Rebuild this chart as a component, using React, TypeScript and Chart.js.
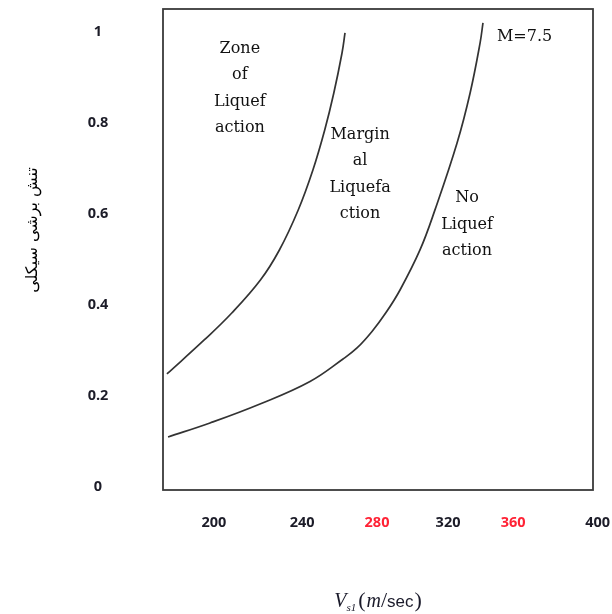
import React, { useEffect, useRef } from "react";
import { Chart, registerables } from "chart.js";

Chart.register(...registerables);

// ---- data ----
const curve1X = [176.0, 195.42, 209.79, 224.69, 234.58, 244.38, 252.03, 258.18, 262.92, 267.19, 268.75];
const curve1Y = [0.2484, 0.3231, 0.3824, 0.4549, 0.5209, 0.6088, 0.6967, 0.7846, 0.8659, 0.9538, 0.9978];

const curve2X = [176.6, 198.44, 224.48, 250.52, 267.71, 275.0, 282.81, 290.1, 297.4, 307.8, 315.6, 327.1, 333.9, 339.1, 340.6];
const curve2Y = [0.11, 0.1407, 0.1824, 0.2319, 0.2813, 0.3055, 0.3418, 0.3833, 0.433, 0.521, 0.609, 0.756, 0.866, 0.976, 1.02];

const yTickValues = [0, 0.2, 0.4, 0.6, 0.8, 1];
const yTickLabels = ["0", "0.2", "0.4", "0.6", "0.8", "1"];

// x tick labels sit where the original figure placed them
const xTickValues = [200.5, 246.4, 285.4, 322.4, 356.3, 400.3];
const xTickLabels = ["200", "240", "280", "320", "360", "400"];
const xTickColors = ["#1c1c28", "#1c1c28", "#ff2235", "#1c1c28", "#ff2235", "#1c1c28"];

const zoneTexts = [
  { lines: ["Zone", "of", "Liquef", "action"], x: 214, y: 0.963, align: "center" },
  { lines: ["Margin", "al", "Liquefa", "ction"], x: 276.6, y: 0.774, align: "center" },
  { lines: ["No", "Liquef", "action"], x: 332.3, y: 0.635, align: "center" },
  { lines: ["M=7.5"], x: 347.9, y: 0.989, align: "left" },
];

const yTitle = "تنش برشی سیکلی";

const X_MIN = 173.96;
const X_MAX = 397.9;
const Y_MIN = -0.0066;
const Y_MAX = 1.0505;

const toPts = (xs: number[], ys: number[]) => xs.map((x, i) => ({ x, y: ys[i] }));

const decorPlugin = {
  id: "decor",
  afterDraw(chart: any) {
    const ctx = chart.ctx as CanvasRenderingContext2D;
    const ca = chart.chartArea;
    const xs = chart.scales.x;
    const ys = chart.scales.y;
    ctx.save();

    // box
    ctx.strokeStyle = "#3a3a3a";
    ctx.lineWidth = 1.8;
    ctx.strokeRect(ca.left, ca.top, ca.right - ca.left, ca.bottom - ca.top);

    // y tick labels
    ctx.font = '700 14.5px "Open Sans"';
    ctx.fillStyle = "#1c1c28";
    ctx.textAlign = "center";
    ctx.textBaseline = "middle";
    yTickValues.forEach((v, i) => {
      ctx.fillText(yTickLabels[i], ca.left - 65, ys.getPixelForValue(v));
    });

    // x tick labels
    xTickValues.forEach((v, i) => {
      ctx.fillStyle = xTickColors[i];
      ctx.fillText(xTickLabels[i], xs.getPixelForValue(v), ca.bottom + 33);
    });

    // zone annotations
    ctx.font = '16px "DejaVu Serif"';
    ctx.fillStyle = "#111";
    zoneTexts.forEach((t) => {
      ctx.textAlign = t.align as CanvasTextAlign;
      const px = xs.getPixelForValue(t.x);
      const py = ys.getPixelForValue(t.y);
      t.lines.forEach((ln, j) => ctx.fillText(ln, px, py + j * 26.5));
    });

    // y title (rotated)
    ctx.save();
    ctx.translate(33, 230);
    ctx.rotate(-Math.PI / 2);
    ctx.font = '16px "DejaVu Sans"';
    ctx.fillStyle = "#000";
    ctx.textAlign = "center";
    ctx.direction = "rtl";
    ctx.fillText(yTitle, 0, 0);
    ctx.restore();

    // x title: V_s1 (m/sec)
    const parts = [
      { t: "V", f: 'italic 20px "Liberation Serif"', dy: 0, gap: 0 },
      { t: "s1", f: 'italic 11px "Liberation Serif"', dy: 4, gap: 2 },
      { t: "(", f: '22px "Liberation Serif"', dy: 0, gap: 1 },
      { t: "m", f: 'italic 20px "Liberation Serif"', dy: 0, gap: 0 },
      { t: "/", f: '22px "Liberation Serif"', dy: 0, gap: 0 },
      { t: "sec", f: '17px "Liberation Sans"', dy: 0, gap: 1 },
      { t: ")", f: '22px "Liberation Serif"', dy: 0, gap: 0 },
    ];
    let total = 0;
    const widths = parts.map((p) => {
      ctx.font = p.f;
      const w = ctx.measureText(p.t).width + p.gap;
      total += w;
      return w;
    });
    let cx = (ca.left + ca.right) / 2 - total / 2;
    ctx.textAlign = "left";
    ctx.textBaseline = "alphabetic";
    ctx.fillStyle = "#1a1a2a";
    parts.forEach((p, i) => {
      ctx.font = p.f;
      ctx.fillText(p.t, cx, ca.bottom + 117 + p.dy);
      cx += widths[i];
    });

    ctx.restore();
  },
};

export default function App() {
  const ref = useRef<HTMLCanvasElement | null>(null);
  useEffect(() => {
    if (!ref.current) return;
    const chart = new Chart(ref.current, {
      type: "line",
      data: {
        datasets: [
          {
            data: toPts(curve1X, curve1Y),
            borderColor: "#333",
            borderWidth: 1.7,
            pointRadius: 0,
            tension: 0.4,
            fill: false,
          },
          {
            data: toPts(curve2X, curve2Y),
            borderColor: "#333",
            borderWidth: 1.7,
            pointRadius: 0,
            tension: 0.4,
            fill: false,
          },
        ],
      },
      options: {
        responsive: false,
        animation: false,
        layout: { padding: { left: 163, top: 9, right: 19, bottom: 124 } },
        plugins: { legend: { display: false }, tooltip: { enabled: false } },
        scales: {
          x: { type: "linear", min: X_MIN, max: X_MAX, display: false },
          y: { type: "linear", min: Y_MIN, max: Y_MAX, display: false },
        },
      },
      plugins: [decorPlugin],
    });
    return () => chart.destroy();
  }, []);
  return (
    <div style={{ position: "absolute", left: 0, top: 0, width: 612, height: 614, background: "#fff" }}>
      <canvas ref={ref} width={612} height={614} style={{ display: "block" }} />
    </div>
  );
}
